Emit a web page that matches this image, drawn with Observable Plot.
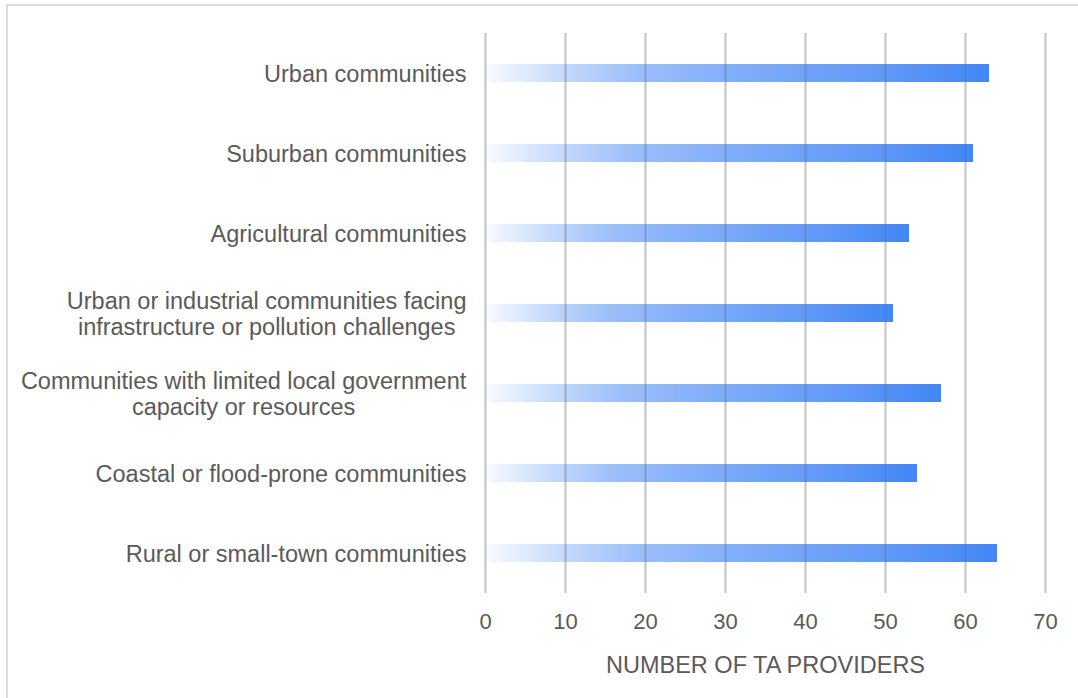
<!DOCTYPE html>
<html>
<head>
<meta charset="utf-8">
<script src="https://cdn.jsdelivr.net/npm/d3@7"></script>
<script src="https://cdn.jsdelivr.net/npm/@observablehq/plot@0.6"></script>
<style>
  html, body { margin: 0; padding: 0; background: #fff; }
  #wrap { position: relative; width: 1078px; height: 698px; overflow: hidden; }
  #frame { position: absolute; left: 6px; top: 4px; right: -10px; bottom: -10px;
           border-top: 2px solid #dcdcdc; border-left: 2px solid #dcdcdc; }
  #chart { position: absolute; left: 0; top: 0; }
</style>
</head>
<body>
<div id="wrap">
  <div id="frame"></div>
  <div id="chart"></div>
</div>
<script>
// Community types served, top to bottom
const categories = [
  "Urban communities",
  "Suburban communities",
  "Agricultural communities",
  "Urban or industrial communities facing\ninfrastructure or pollution challenges",
  "Communities with limited local government\ncapacity or resources",
  "Coastal or flood-prone communities",
  "Rural or small-town communities"
];
// Number of TA providers per community type
const providers = [63, 61, 53, 51, 57, 54, 64];
const xTicks = [0, 10, 20, 30, 40, 50, 60, 70];
const xTitle = "NUMBER OF TA PROVIDERS";

const rows = categories.map((c, i) => ({category: c, value: providers[i]}));

const FONT = "'Liberation Sans', Arial, Helvetica, sans-serif";
const INK = "#5a5a5a";

// Horizontal fade from pale to solid blue along each bar
function gradientDefs() {
  const ns = "http://www.w3.org/2000/svg";
  const defs = document.createElementNS(ns, "defs");
  const lg = document.createElementNS(ns, "linearGradient");
  lg.setAttribute("id", "barFade");
  lg.setAttribute("x1", "0"); lg.setAttribute("x2", "1");
  lg.setAttribute("y1", "0"); lg.setAttribute("y2", "0");
  const stops = [[0, 0.04], [0.15, 0.31], [0.3, 0.53], [0.47, 0.65], [0.63, 0.75], [0.79, 0.84], [0.95, 0.96], [1, 1]];
  for (const [o, a] of stops) {
    const s = document.createElementNS(ns, "stop");
    s.setAttribute("offset", o);
    s.setAttribute("stop-color", "#4285f4");
    s.setAttribute("stop-opacity", a);
    lg.appendChild(s);
  }
  defs.appendChild(lg);
  return defs;
}

const chart = Plot.plot({
  width: 1078,
  height: 698,
  marginLeft: 485,
  marginRight: 33,
  marginTop: 33,
  marginBottom: 105,
  style: {fontFamily: FONT, color: INK, background: "transparent", overflow: "visible"},
  x: {domain: [0, 70], ticks: xTicks, label: null},
  y: {domain: categories, paddingInner: 0.775, paddingOuter: 0.3875, label: null, axis: null},
  marks: [
    gradientDefs,
    Plot.gridX(xTicks, {stroke: "#d4d4d4", strokeOpacity: 1, strokeWidth: 2}),
    Plot.barX(rows, {y: "category", x: "value", fill: "url(#barFade)", insetLeft: 2}),
    Plot.gridX(xTicks, {stroke: "#555", strokeOpacity: 0.12, strokeWidth: 2}),
    Plot.axisX(xTicks, {tickSize: 0, tickPadding: 20, fontSize: 22, fill: INK, label: null}),
    Plot.text(categories, {
      y: d => d, text: d => d, frameAnchor: "left", textAnchor: "end",
      dx: -19, fontSize: 23.5, lineHeight: 1.1, fill: INK
    }),
    Plot.text([xTitle], {text: d => d, frameAnchor: "bottom", dy: 72, fontSize: 23.5, fill: INK, lineAnchor: "middle"})
  ]
});

document.getElementById("chart").appendChild(chart);

// Wrapped category labels: center each line within its block, block stays right-aligned
chart.querySelectorAll("text").forEach(t => {
  if (t.querySelectorAll("tspan").length > 1) {
    const w = t.getBBox().width;
    t.setAttribute("text-anchor", "middle");
    t.setAttribute("transform", (t.getAttribute("transform") || "") + ` translate(${-w / 2},0)`);
  }
});
</script>
</body>
</html>
